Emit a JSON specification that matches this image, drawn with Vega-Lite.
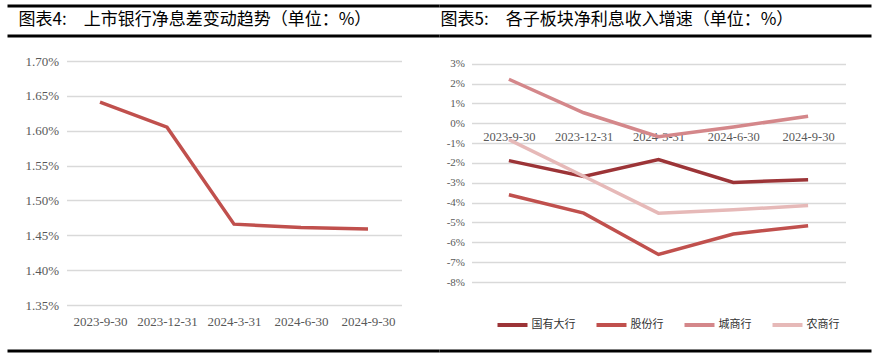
{
  "$schema": "https://vega.github.io/schema/vega-lite/v6.json",
  "background": "white",
  "padding": {"left": 5.5, "top": 4, "right": 2, "bottom": 2},
  "spacing": 16,
  "config": {
    "view": {"stroke": null},
    "axis": {"labelFont": "Liberation Serif", "labelColor": "#595959", "titleFont": "Noto Sans CJK SC"}
  },
  "datasets": {
    "titles": [
      {"panel": "L", "title": "图表4:　上市银行净息差变动趋势（单位：%）"},
      {"panel": "R", "title": "图表5:　各子板块净利息收入增速（单位：%）"}
    ],
    "frame": [
      {"panel": "L", "edge": 0}, {"panel": "L", "edge": 1},
      {"panel": "R", "edge": 0}, {"panel": "R", "edge": 1}
    ],
    "nim": [
      {"date": "2023-9-30", "nim": 1.641},
      {"date": "2023-12-31", "nim": 1.605},
      {"date": "2024-3-31", "nim": 1.466},
      {"date": "2024-6-30", "nim": 1.461},
      {"date": "2024-9-30", "nim": 1.459}
    ],
    "growth": [
      {"date": "2023-9-30", "series": "国有大行", "value": -1.88},
      {"date": "2023-12-31", "series": "国有大行", "value": -2.68},
      {"date": "2024-3-31", "series": "国有大行", "value": -1.83},
      {"date": "2024-6-30", "series": "国有大行", "value": -2.98},
      {"date": "2024-9-30", "series": "国有大行", "value": -2.84},
      {"date": "2023-9-30", "series": "股份行", "value": -3.6},
      {"date": "2023-12-31", "series": "股份行", "value": -4.53},
      {"date": "2024-3-31", "series": "股份行", "value": -6.61},
      {"date": "2024-6-30", "series": "股份行", "value": -5.58},
      {"date": "2024-9-30", "series": "股份行", "value": -5.16},
      {"date": "2023-9-30", "series": "城商行", "value": 2.22},
      {"date": "2023-12-31", "series": "城商行", "value": 0.53},
      {"date": "2024-3-31", "series": "城商行", "value": -0.68},
      {"date": "2024-6-30", "series": "城商行", "value": -0.19},
      {"date": "2024-9-30", "series": "城商行", "value": 0.36},
      {"date": "2023-9-30", "series": "农商行", "value": -0.82},
      {"date": "2023-12-31", "series": "农商行", "value": -2.67},
      {"date": "2024-3-31", "series": "农商行", "value": -4.53},
      {"date": "2024-6-30", "series": "农商行", "value": -4.36},
      {"date": "2024-9-30", "series": "农商行", "value": -4.15}
    ]
  },
  "vconcat": [
    {
      "width": 805,
      "height": 34,
      "layer": [
        {
          "data": {"name": "frame"},
          "mark": {"type": "rule", "color": "black", "strokeWidth": 3},
          "encoding": {
            "x": {"field": "panel", "type": "nominal", "bandPosition": 0, "scale": {"type": "band", "range": [-59, 805], "paddingInner": 0, "paddingOuter": 0}, "axis": null},
            "x2": {"field": "panel", "bandPosition": 1},
            "y": {"field": "edge", "type": "quantitative", "scale": {"domain": [-0.1, 1.0333], "nice": false, "zero": false}, "axis": null}
          }
        },
        {
          "data": {"name": "titles"},
          "transform": [{"filter": "datum.panel == 'L'"}],
          "mark": {"type": "text", "align": "left", "baseline": "middle", "font": "Noto Sans CJK SC", "fontSize": 17, "color": "black", "dx": 11, "dy": -1},
          "encoding": {
            "x": {"field": "panel", "type": "nominal", "bandPosition": 0},
            "y": {"datum": 0.5, "type": "quantitative"},
            "text": {"field": "title"}
          }
        },
        {
          "data": {"name": "titles"},
          "transform": [{"filter": "datum.panel == 'R'"}],
          "mark": {"type": "text", "align": "left", "baseline": "middle", "font": "Noto Sans CJK SC", "fontSize": 17, "color": "black", "dx": 1, "dy": -1},
          "encoding": {
            "x": {"field": "panel", "type": "nominal", "bandPosition": 0},
            "y": {"datum": 0.5, "type": "quantitative"},
            "text": {"field": "title"}
          }
        }
      ]
    },
    {
      "spacing": 31,
      "resolve": {"scale": {"color": "independent"}, "legend": {"color": "independent"}},
      "hconcat": [
        {
          "width": 335,
          "height": 244,
          "data": {"name": "nim"},
          "mark": {"type": "line", "color": "#c0504d", "strokeWidth": 3.5},
          "encoding": {
            "x": {"field": "date", "type": "ordinal", "sort": null, "scale": {"type": "point", "padding": 0.5},
              "axis": {"title": null, "domain": false, "ticks": false, "grid": false, "labelAngle": 0, "labelPadding": 10, "labelFontSize": 13}},
            "y": {"field": "nim", "type": "quantitative", "scale": {"domain": [1.35, 1.7], "nice": false, "zero": false},
              "axis": {"title": null, "values": [1.35, 1.4, 1.45, 1.5, 1.55, 1.6, 1.65, 1.7], "labelExpr": "format(datum.value, '.2f') + '%'", "domain": false, "ticks": false, "gridColor": "#d9d9d9", "gridWidth": 1.5, "labelPadding": 8, "labelFontSize": 13, "minExtent": 59}}
          }
        },
        {
          "width": 374,
          "height": 221,
          "data": {"name": "growth"},
          "mark": {"type": "line", "strokeWidth": 3.5},
          "encoding": {
            "x": {"field": "date", "type": "ordinal", "sort": null, "scale": {"type": "point", "padding": 0.5},
              "axis": {"offset": -158.7, "title": null, "domain": false, "ticks": false, "grid": false, "labelAngle": 0, "labelPadding": 7.5, "labelFontSize": 12.5}},
            "y": {"field": "value", "type": "quantitative", "scale": {"domain": [-8, 3.14], "nice": false, "zero": false},
              "axis": {"title": null, "values": [-8, -7, -6, -5, -4, -3, -2, -1, 0, 1, 2, 3], "labelExpr": "datum.value + '%'", "domain": false, "ticks": false, "gridColor": "#d9d9d9", "gridWidth": 1.5, "labelPadding": 7, "labelFontSize": 11, "minExtent": 39}},
            "color": {"field": "series", "type": "nominal",
              "scale": {"domain": ["国有大行", "股份行", "城商行", "农商行"], "range": ["#9c3437", "#c0504d", "#d4878a", "#e6b9b8"]},
              "legend": {"orient": "none", "legendX": 24, "legendY": 247, "direction": "horizontal", "title": null, "symbolType": "stroke", "symbolSize": 900, "symbolStrokeWidth": 4, "labelFont": "Noto Sans CJK SC", "labelFontSize": 11, "labelColor": "#333333", "labelOffset": 2, "columnPadding": 13}}
          }
        }
      ]
    },
    {
      "width": 805,
      "height": 1,
      "data": {"name": "frame"},
      "transform": [{"filter": "datum.edge == 0"}],
      "mark": {"type": "rule", "color": "black", "strokeWidth": 3},
      "encoding": {
        "x": {"field": "panel", "type": "nominal", "bandPosition": 0, "scale": {"type": "band", "range": [-59, 805], "paddingInner": 0, "paddingOuter": 0}, "axis": null},
        "x2": {"field": "panel", "bandPosition": 1},
        "y": {"field": "edge", "type": "quantitative", "scale": {"domain": [0, 1], "nice": false}, "axis": null}
      }
    }
  ]
}
